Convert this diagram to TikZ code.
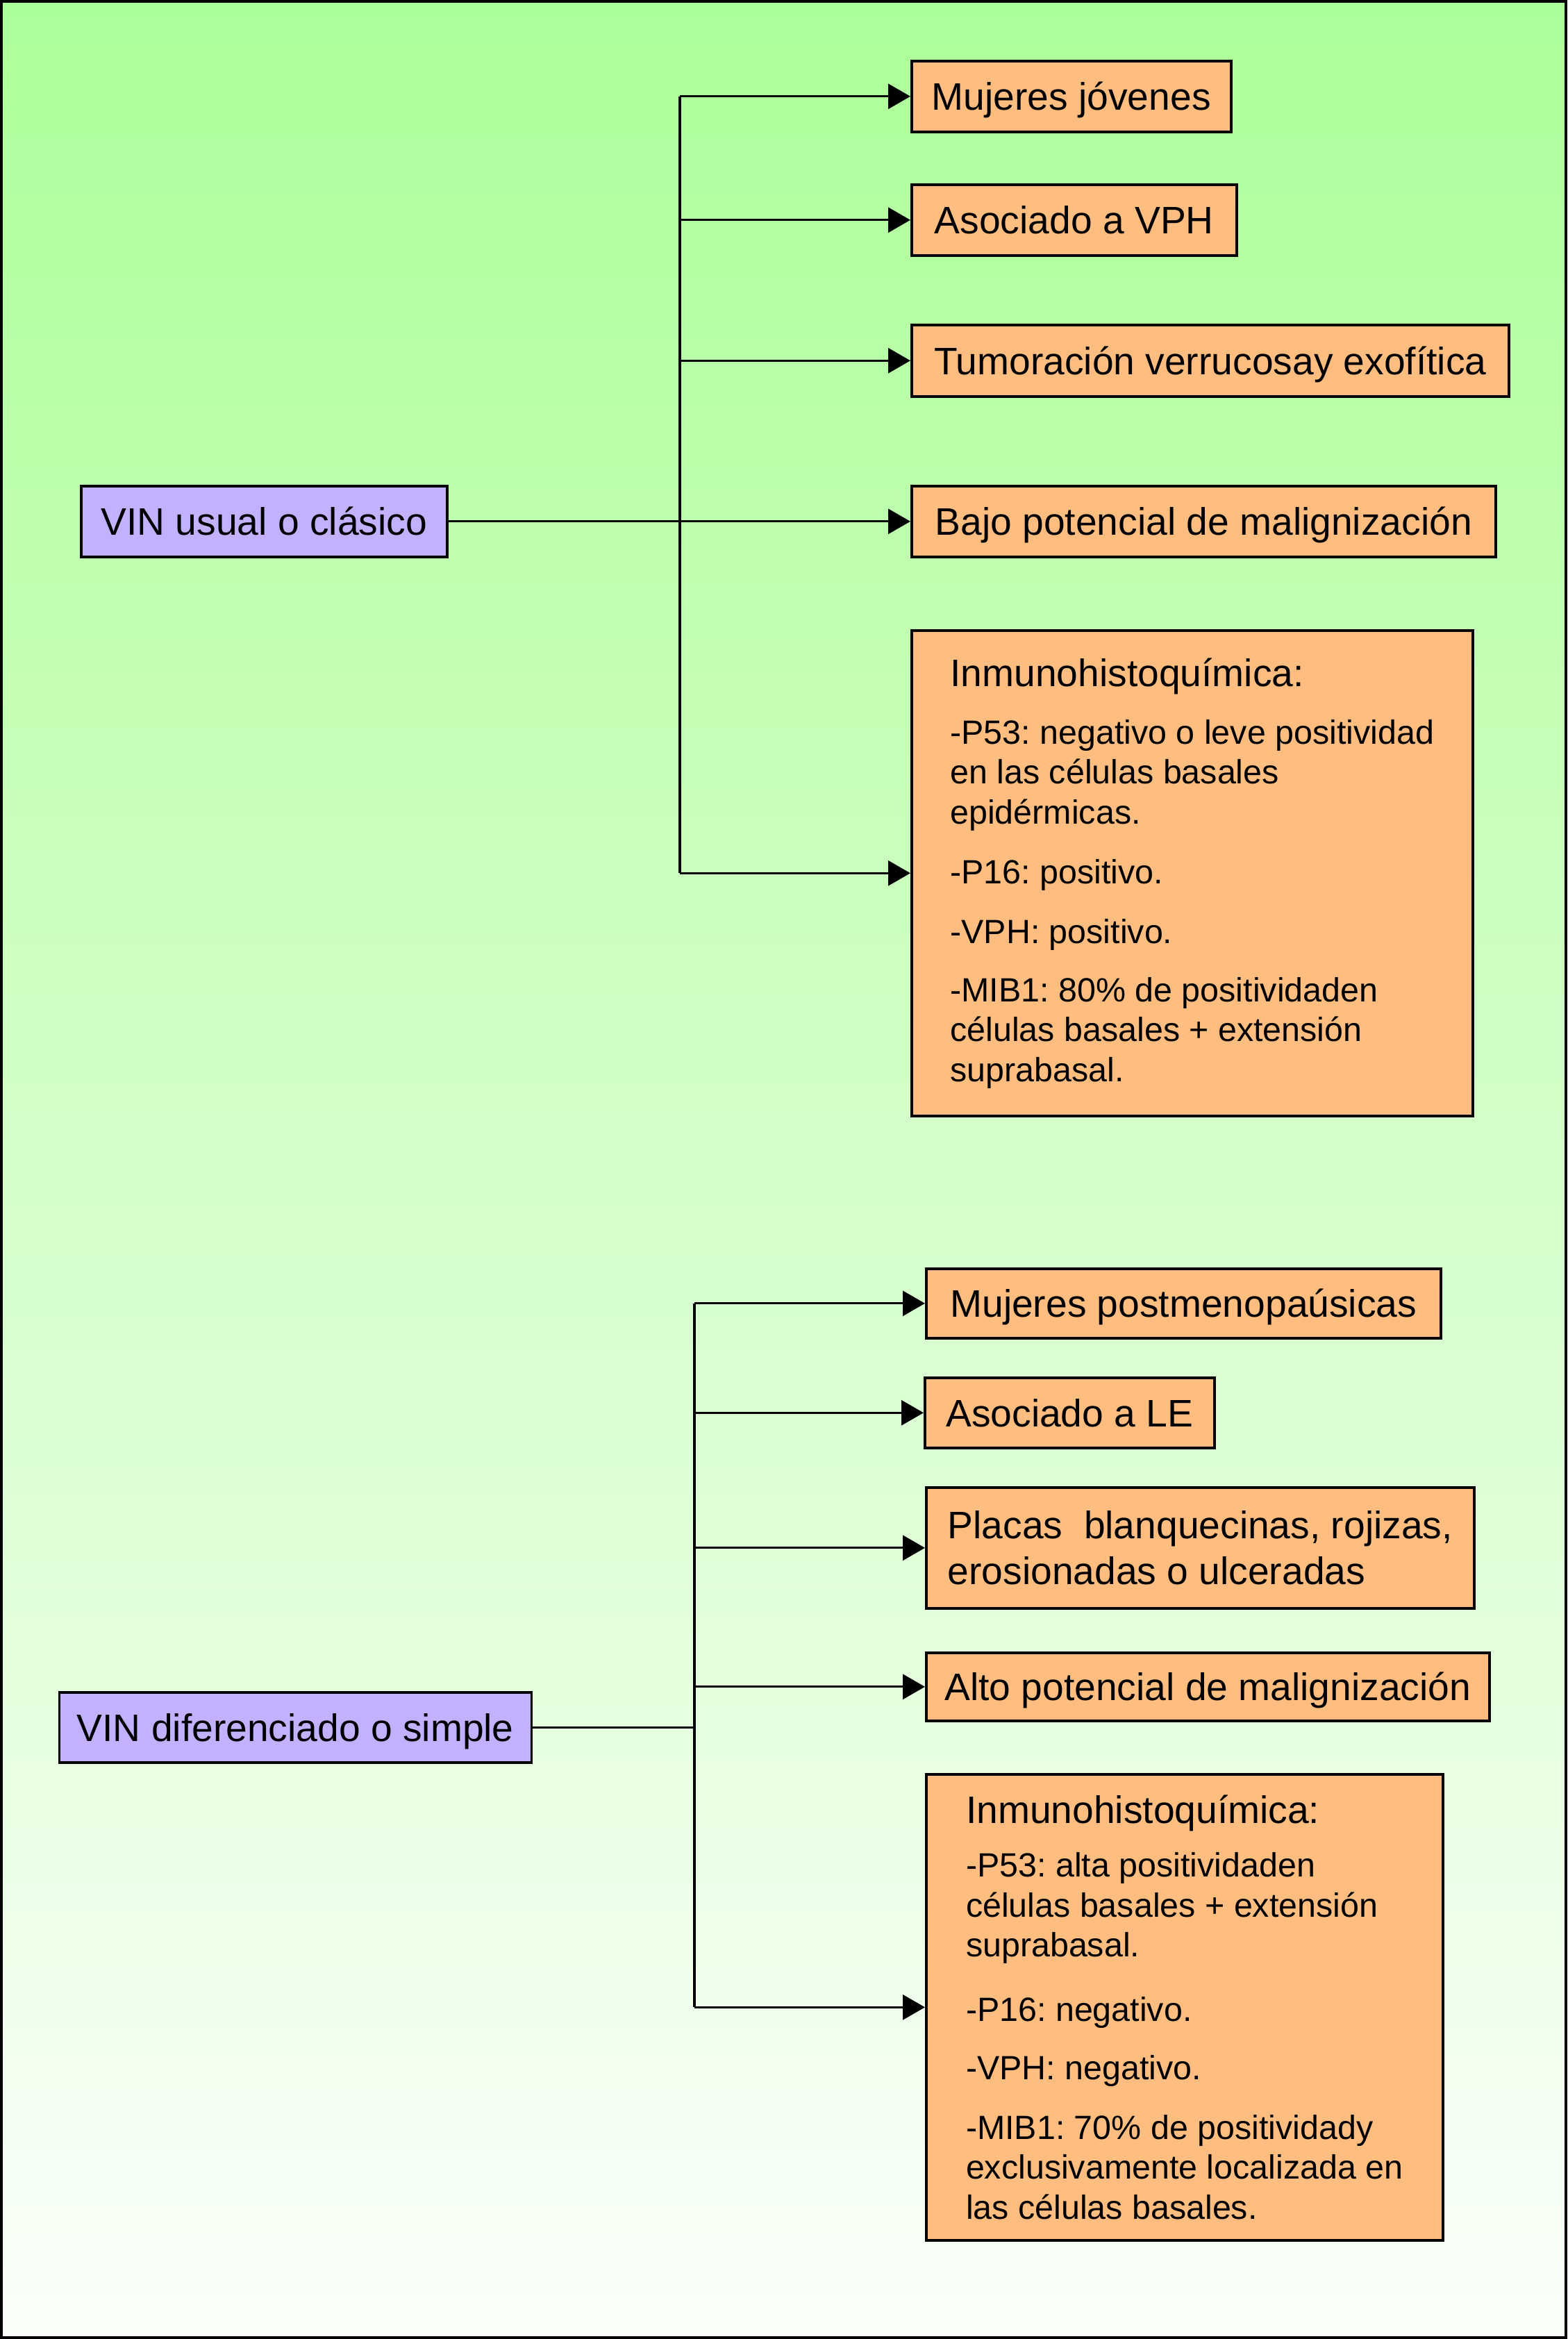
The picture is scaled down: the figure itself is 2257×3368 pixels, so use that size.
\documentclass[tikz,border=0pt]{standalone}
\usepackage{fontspec}
\setmainfont{Liberation Sans}
\usetikzlibrary{arrows.meta}
\definecolor{bgtop}{RGB}{172,255,152}
\definecolor{bgbot}{RGB}{251,255,250}
\definecolor{boxor}{RGB}{255,190,128}
\definecolor{boxpu}{RGB}{194,177,255}
\newcommand\inmtitle{\fontsize{13.8pt}{14.375pt}\selectfont}
\frenchspacing
\begin{document}
\begin{tikzpicture}[x=0.25pt,y=-0.25pt,
  basebox/.style={draw=black, line width=0.9pt, inner sep=0pt, anchor=north west},
  onebox/.style={basebox, fill=boxor, font=\fontsize{13.8pt}{16.6pt}\selectfont\frenchspacing, text height=9.9pt, text depth=0pt},
  vinbox/.style={basebox, fill=boxpu, font=\fontsize{13.8pt}{16.6pt}\selectfont\frenchspacing, text height=9.9pt, text depth=0pt},
  twobox/.style={basebox, fill=boxor, font=\fontsize{13.8pt}{16.6pt}\selectfont\frenchspacing, align=left},
  inmbox/.style={basebox, fill=boxor, font=\fontsize{12.1pt}{14.375pt}\selectfont\frenchspacing, align=left},
  link/.style={line width=0.8pt, draw=black},
  arr/.style={link, -{Triangle[length=8pt,width=9pt]}}]
\useasboundingbox (0,0) rectangle (2257,3368);
\draw[line width=1pt, top color=bgtop, bottom color=bgbot] (2,2) rectangle (2255,3366);

% upper group
\node[vinbox, minimum width=131.75pt, minimum height=25.5pt] (v1) at (115,698) {VIN usual o clásico};
\node[onebox, minimum width=115pt, minimum height=25.5pt] (m1) at (1311,86) {Mujeres jóvenes};
\node[onebox, minimum width=117pt, minimum height=25.5pt] (a1) at (1311,264) {Asociado a VPH};
\node[onebox, minimum width=215pt, minimum height=25.75pt] (t1) at (1311,466) {Tumoración verrucosay exofítica};
\node[onebox, minimum width=210.25pt, minimum height=25.5pt] (b1) at (1311,698) {Bajo potencial de malignización};
\node[inmbox, minimum width=202pt, minimum height=174.75pt] (i1) at (1311,906) {%
{\inmtitle Inmunohistoquímica:}\\[6.4pt]
-P53: negativo o leve positividad\\
en las células basales\\
epidérmicas.\\[7.1pt]
-P16: positivo.\\[7.1pt]
-VPH: positivo.\\[6.6pt]
-MIB1: 80\% de positividaden\\
células basales + extensión\\
suprabasal.};
\coordinate (bus1) at (979,749);
\draw[link] (v1.east) -- (v1.east -| bus1);
\draw[link] (m1.west -| bus1) -- (i1.west -| bus1);
\foreach \n in {m1,a1,t1,b1,i1} \draw[arr] (\n.west -| bus1) -- (\n.west);

% lower group
\node[vinbox, minimum width=170pt, minimum height=25.25pt] (v2) at (83.5,2435) {VIN diferenciado o simple};
\node[onebox, minimum width=185.25pt, minimum height=25pt] (m2) at (1332,1825) {Mujeres postmenopaúsicas};
\node[onebox, minimum width=104.25pt, minimum height=25.25pt] (a2) at (1330,1982) {Asociado a LE};
\node[twobox, minimum width=197.25pt, minimum height=43.5pt] (p2) at (1332,2140) {Placas\ \ blanquecinas, rojizas,\\erosionadas o ulceradas};
\node[onebox, minimum width=202.75pt, minimum height=24.5pt] (al2) at (1332,2378) {Alto potencial de malignización};
\node[inmbox, minimum width=186pt, minimum height=167.75pt] (i2) at (1332,2553) {%
{\inmtitle Inmunohistoquímica:}\\[4.9pt]
-P53: alta positividaden\\
células basales + extensión\\
suprabasal.\\[8.9pt]
-P16: negativo.\\[6.6pt]
-VPH: negativo.\\[7.1pt]
-MIB1: 70\% de positividady\\
exclusivamente localizada en\\
las células basales.};
\coordinate (bus2) at (1000,2485);
\draw[link] (v2.east) -- (v2.east -| bus2);
\draw[link] (m2.west -| bus2) -- (i2.west -| bus2);
\foreach \n in {m2,a2,p2,al2,i2} \draw[arr] (\n.west -| bus2) -- (\n.west);
\end{tikzpicture}
\end{document}
